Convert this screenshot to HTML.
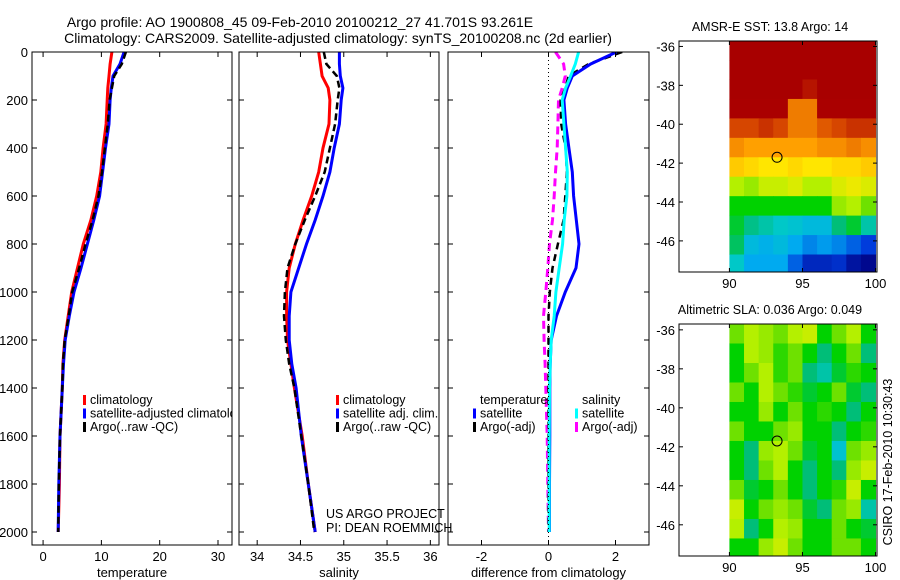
<!DOCTYPE html>
<html><head><meta charset="utf-8"><style>
html,body{margin:0;padding:0;background:#fff;}
svg{display:block;font-family:"Liberation Sans",Arial,sans-serif;}
</style></head><body>
<svg id="fig" width="900" height="580" viewBox="0 0 900 580" xmlns="http://www.w3.org/2000/svg">
<rect width="900" height="580" fill="#fff"/>
<text x="300" y="27" font-size="14" text-anchor="middle">Argo profile: AO 1900808_45 09-Feb-2010 20100212_27 41.701S 93.261E</text>
<text x="338" y="43" font-size="14" text-anchor="middle">Climatology: CARS2009. Satellite-adjusted climatology: synTS_20100208.nc (2d earlier)</text>
<g id="layer"></g>
</svg>
<script>
const depths=[0,50,100,150,200,300,400,500,600,700,800,900,1000,1100,1200,1300,1400,1600,1800,2000];
const tempClim=[11.8,11.5,11.3,11.1,11.0,10.8,10.3,9.9,9.2,8.2,6.9,5.9,4.9,4.3,3.7,3.4,3.3,2.9,2.8,2.6];
const tempSat=[13.9,13.2,12.0,11.7,11.5,11.3,10.7,10.2,9.7,8.7,7.6,6.5,5.3,4.5,3.8,3.5,3.3,2.9,2.7,2.6];
const tempArgo=[14.2,13.5,12.2,11.8,11.4,11.1,10.6,10.1,9.5,8.5,7.3,6.2,5.0,4.4,3.7,3.4,3.3,2.9,2.7,2.6];
const salClim=[34.71,34.73,34.75,34.82,34.84,34.83,34.76,34.71,34.63,34.53,34.44,34.37,34.34,34.34,34.35,34.39,34.43,34.52,34.59,34.67];
const salSat=[34.95,34.95,34.96,34.99,34.97,34.95,34.89,34.84,34.76,34.67,34.57,34.48,34.39,34.37,34.37,34.40,34.45,34.51,34.59,34.67];
const salArgo=[34.77,34.80,34.92,34.95,34.93,34.90,34.84,34.78,34.67,34.55,34.44,34.35,34.32,34.31,34.33,34.37,34.43,34.51,34.59,34.66];
const dTempSat=[2.03,1.26,0.71,0.56,0.46,0.51,0.61,0.71,0.75,0.83,0.91,0.82,0.5,0.24,0.08,0.05,0.04,0.04,0.03,0.03];
const dSalSat=[0.9,0.8,0.66,0.51,0.41,0.46,0.51,0.56,0.55,0.47,0.42,0.32,0.22,0.17,0.08,0.05,0.03,0.02,0.02,0.02];
const dTempArgo=[2.2,1.2,0.6,0.5,0.36,0.38,0.51,0.55,0.5,0.45,0.28,0.12,0.04,0.0,0.0,0.0,0.0,0.0,0.0,0.0];
const dSalArgo=[0.21,0.45,0.5,0.41,0.3,0.28,0.26,0.21,0.17,0.12,0.03,-0.02,-0.08,-0.15,-0.13,-0.1,-0.08,-0.04,-0.02,0.0];
const depthTicks=[0,200,400,600,800,1000,1200,1400,1600,1800,2000];
const tempTicks=[0,10,20,30];
const salTicks=[34,34.5,35,35.5,36];
const salTickLabels=["34","34.5","35","35.5","36"];
const diffTicks=[-2,0,2];
const lonTicks=[90,95,100];
const latTicks=[-36,-38,-40,-42,-44,-46];
const sstGrid=[
[0.96,0.96,0.96,0.96,0.96,0.96,0.96,0.96,0.96,0.96],
[0.96,0.96,0.96,0.96,0.96,0.96,0.96,0.96,0.96,0.96],
[0.96,0.96,0.96,0.96,0.96,0.93,0.96,0.96,0.96,0.96],
[0.95,0.95,0.95,0.95,0.82,0.82,0.95,0.95,0.95,0.95],
[0.88,0.88,0.9,0.88,0.82,0.82,0.86,0.88,0.9,0.9],
[0.8,0.78,0.78,0.78,0.78,0.78,0.8,0.8,0.82,0.8],
[0.72,0.7,0.68,0.68,0.7,0.68,0.68,0.7,0.7,0.72],
[0.6,0.58,0.62,0.62,0.64,0.6,0.6,0.64,0.66,0.64],
[0.5,0.5,0.5,0.5,0.5,0.5,0.5,0.58,0.6,0.55],
[0.48,0.44,0.42,0.4,0.38,0.35,0.35,0.45,0.48,0.42],
[0.46,0.35,0.32,0.35,0.3,0.25,0.28,0.25,0.2,0.15],
[0.4,0.3,0.3,0.3,0.2,0.1,0.1,0.12,0.05,0.02]];
const slaGrid=[
[0.55,0.6,0.58,0.55,0.6,0.62,0.5,0.55,0.6,0.5],
[0.5,0.6,0.58,0.52,0.55,0.5,0.45,0.5,0.55,0.45],
[0.5,0.55,0.6,0.52,0.55,0.45,0.42,0.48,0.52,0.5],
[0.55,0.5,0.6,0.55,0.52,0.48,0.5,0.55,0.48,0.45],
[0.5,0.5,0.58,0.5,0.55,0.5,0.52,0.5,0.45,0.5],
[0.55,0.5,0.5,0.55,0.58,0.5,0.5,0.45,0.5,0.52],
[0.5,0.45,0.58,0.6,0.55,0.48,0.5,0.38,0.55,0.58],
[0.5,0.45,0.55,0.6,0.5,0.45,0.5,0.45,0.58,0.62],
[0.55,0.48,0.5,0.55,0.5,0.45,0.5,0.52,0.62,0.5],
[0.62,0.5,0.55,0.58,0.55,0.48,0.45,0.55,0.58,0.42],
[0.6,0.45,0.5,0.6,0.58,0.5,0.5,0.55,0.5,0.48],
[0.5,0.5,0.58,0.62,0.55,0.5,0.5,0.55,0.55,0.5]];
const gridLat0=-35.7, gridDLat=1.0, gridLon0=90, gridDLon=1.0;
const argoLon=93.261, argoLat=-41.701;

const NS="http://www.w3.org/2000/svg";
const L=document.getElementById('layer');
function mk(tag,attrs,parent){const e=document.createElementNS(NS,tag);for(const k in attrs)e.setAttribute(k,attrs[k]);(parent||L).appendChild(e);return e;}
function txt(x,y,s,size,anchor,parent){const t=mk('text',{x:x,y:y,'font-size':size,'text-anchor':anchor||'start'},parent);t.textContent=s;return t;}

const topY=52, botY=545;
const yD=d=>topY+0.24*d;
function panel(name,x0,x1,xmin,xmax,ticks,labels,showY,xlabel,series){
  const xs=v=>x0+(v-xmin)/(xmax-xmin)*(x1-x0);
  const g=mk('g',{});
  
  
  const cid='clip-'+name;
  const cp=mk('clipPath',{id:cid},g);mk('rect',{x:x0,y:topY,width:x1-x0,height:botY-topY},cp);
  const sg=mk('g',{'clip-path':'url(#'+cid+')'},g);
  series.forEach(s=>{
    const pts=s.vals.map((v,i)=>xs(v).toFixed(1)+','+yD(depths[i]).toFixed(1)).join(' ');
    const p=mk('polyline',{points:pts,fill:'none',stroke:s.color,'stroke-width':s.w||3,'stroke-dasharray':s.dash||'none'},sg);
    
    
  });
  const f=mk('rect',{x:x0,y:topY,width:x1-x0,height:botY-topY,fill:'none',stroke:'#000','stroke-width':1},g);
  
  
  depthTicks.forEach(d=>{
    const y=yD(d);
    mk('line',{x1:x0,y1:y,x2:x0+5,y2:y,stroke:'#000'},g);
    mk('line',{x1:x1,y1:y,x2:x1-5,y2:y,stroke:'#000'},g);
    if(showY){const t=txt(x0-4,y+5,String(d),13,'end',g);
      
      }
  });
  ticks.forEach((v,i)=>{
    const x=xs(v);
    mk('line',{x1:x,y1:botY,x2:x,y2:botY-5,stroke:'#000'},g);
    mk('line',{x1:x,y1:topY,x2:x,y2:topY+5,stroke:'#000'},g);
    const t=txt(x,botY+16,labels[i],13,'middle',g);
    
    
  });
  const xl=txt((x0+x1)/2,botY+32,xlabel,13,'middle',g);
  
  
  return xs;
}
panel('temperature-panel',32,232,-1.9,32.4,tempTicks,tempTicks.map(String),true,'temperature',[
 {name:'temp-climatology-line',vals:tempClim,color:'#f00'},
 {name:'temp-satellite-line',vals:tempSat,color:'#00f'},
 {name:'temp-argo-line',vals:tempArgo,color:'#000',dash:'7 4',w:2.5}]);
panel('salinity-panel',239,439,33.79,36.1,salTicks,salTickLabels,false,'salinity',[
 {name:'sal-climatology-line',vals:salClim,color:'#f00'},
 {name:'sal-satellite-line',vals:salSat,color:'#00f'},
 {name:'sal-argo-line',vals:salArgo,color:'#000',dash:'7 4',w:2.5}]);
const xd=panel('difference-panel',448,649,-3,3,diffTicks,diffTicks.map(String),false,'difference from climatology',[
 {name:'dsal-argo-line',vals:dSalArgo,color:'#f0f',dash:'8 5'},
 {name:'dtemp-argo-line',vals:dTempArgo,color:'#000',dash:'7 5',w:2.5},
 {name:'dtemp-satellite-line',vals:dTempSat,color:'#00f'},
 {name:'dsal-satellite-line',vals:dSalSat,color:'#0ff'}]);
const zl=mk('line',{x1:xd(0),y1:topY,x2:xd(0),y2:botY,stroke:'#000','stroke-dasharray':'1 3'});



function legend(x,y,items,parent){
  items.forEach((it,i)=>{
    const yy=y+i*13.5;
    if(it.c){const r=mk('rect',{x:x,y:yy-9,width:3,height:10,fill:it.c},parent);
      
      }
    const t=txt(x+7,yy,it.t,12.5,'start',parent);
    
    
  });
}
const lcp=mk('clipPath',{id:'lclip'});mk('rect',{x:0,y:0,width:232,height:580},lcp);
const tg=mk('g',{'clip-path':'url(#lclip)'});
legend(83,404,[{t:'climatology',c:'#f00'},{t:'satellite-adjusted climatology',c:'#00f'},{t:'Argo(..raw -QC)',c:'#000'}],tg);
legend(336,404,[{t:'climatology',c:'#f00'},{t:'satellite adj. clim.',c:'#00f'},{t:'Argo(..raw -QC)',c:'#000'}]);
legend(473,404,[{t:'temperature'},{t:'satellite',c:'#00f'},{t:'Argo(-adj)',c:'#000'}]);
legend(575,404,[{t:'salinity'},{t:'satellite',c:'#0ff'},{t:'Argo(-adj)',c:'#f0f'}]);
const c1=txt(326,518,'US ARGO PROJECT',12.5);
const c2=txt(326,532,'PI: DEAN ROEMMICH',12.5);

const cmapStops=[[0,[0,0,130]],[0.15,[0,60,220]],[0.3,[0,170,240]],[0.4,[0,200,200]],[0.45,[0,190,120]],[0.5,[0,210,0]],[0.55,[110,225,0]],[0.6,[180,240,0]],[0.68,[255,230,0]],[0.78,[255,160,0]],[0.87,[220,80,0]],[0.95,[170,0,0]],[1,[160,0,0]]];
function cmap(v){v=Math.max(0,Math.min(1,v));
  for(let i=1;i<cmapStops.length;i++){const a=cmapStops[i-1],b=cmapStops[i];
    if(v<=b[0]){const t=(v-a[0])/(b[0]-a[0]);const c=a[1].map((x,k)=>Math.round(x+(b[1][k]-x)*t));return 'rgb('+c.join(',')+')';}}
  return 'rgb(160,0,0)';}
function drawMap(name,title,y0,y1,latTop,latBot,grid){
  const x0=679,x1=877,lonMin=86.55,lonMax=100.1;
  const xs=v=>x0+(v-lonMin)/(lonMax-lonMin)*(x1-x0);
  const ys=v=>y0+(latTop-v)/(latTop-latBot)*(y1-y0);
  const g=mk('g',{});
  
  
  const cid='clip-'+name;const cp=mk('clipPath',{id:cid},g);mk('rect',{x:x0,y:y0,width:x1-x0,height:y1-y0},cp);
  const cg=mk('g',{'clip-path':'url(#'+cid+')'},g);
  grid.forEach((row,i)=>row.forEach((v,j)=>{
    const la=gridLat0-i*gridDLat, lo=gridLon0+j*gridDLon;
    const xa=xs(lo),xb=xs(lo+gridDLon),ya=ys(la),yb=ys(la-gridDLat);
    const r=mk('rect',{x:xa,y:ya,width:xb-xa+0.5,height:yb-ya+0.5,fill:cmap(v)},cg);
    
    
  }));
  const ci=mk('circle',{cx:xs(argoLon),cy:ys(argoLat),r:5,fill:'none',stroke:'#000','stroke-width':1},g);
  
  
  mk('rect',{x:x0,y:y0,width:x1-x0,height:y1-y0,fill:'none',stroke:'#000'},g);
  latTicks.forEach(v=>{const y=ys(v);mk('line',{x1:x0,y1:y,x2:x0+4,y2:y,stroke:'#000'},g);mk('line',{x1:x1,y1:y,x2:x1-4,y2:y,stroke:'#000'},g);
    const t=txt(x0-4,y+5,String(v),13,'end',g);});
  lonTicks.forEach(v=>{const x=xs(v);mk('line',{x1:x,y1:y1,x2:x,y2:y1-4,stroke:'#000'},g);mk('line',{x1:x,y1:y0,x2:x,y2:y0+4,stroke:'#000'},g);
    const t=txt(x,y1+16,String(v),13,'middle',g);});
  const tt=txt(770,y0-10,title,12.5,'middle',g);
}
drawMap('sst-map','AMSR-E SST: 13.8 Argo: 14',41,272,-35.72,-47.6,sstGrid);
drawMap('sla-map','Altimetric SLA: 0.036 Argo: 0.049',324,556,-35.7,-47.6,slaGrid);
const cs=txt(0,0,'CSIRO 17-Feb-2010 10:30:43',12.5,'middle');
cs.setAttribute('transform','translate(892,462) rotate(-90)');


</script>
</body></html>
